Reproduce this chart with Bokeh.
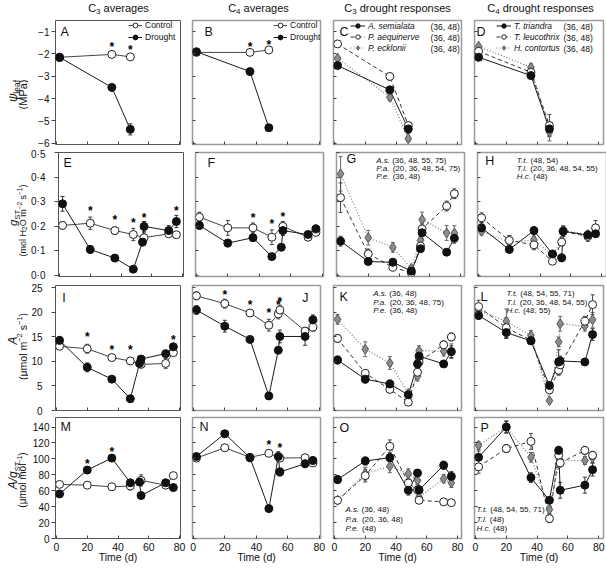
import math
from bokeh.plotting import figure
from bokeh.models import (Range1d, FixedTicker, CustomJSTickFormatter, Label, Legend,
                          LegendItem, Whisker, TeeHead, ColumnDataSource, CustomLabelingPolicy)
from bokeh.layouts import row, column
from bokeh.embed import file_html
from bokeh.resources import INLINE
from bokeh.core.properties import value

FONT = "Liberation Sans"

# ------------------------------------------------------------------ data
DAYS_PSI = [2, 36, 48]
DAYS = [2, 20, 36, 48, 54, 55, 71, 76]
DAYS_CTRL = [2, 20, 36, 48, 55, 71, 76]
X_TICKS = [0, 20, 40, 60, 80]
Y_TICKS = [[-6, -5, -4, -3, -2, -1],
           [0.0, 0.1, 0.2, 0.3, 0.4, 0.5],
           [0, 5, 10, 15, 20, 25],
           [0, 20, 40, 60, 80, 100, 120, 140]]

COL_TITLES = [("C", "3", " averages"), ("C", "4", " averages"),
              ("C", "3", " drought responses"), ("C", "4", " drought responses")]
PANEL_LETTERS = [["A", "B", "C", "D"], ["E", "F", "G", "H"],
                 ["I", "J", "K", "L"], ["M", "N", "O", "P"]]
AVG_LABELS = ["Control", "Drought"]
C3_SPECIES = ["A. semialata", "P. aequinerve", "P. ecklonii"]
C4_SPECIES = ["T. triandra", "T. leucothrix", "H. contortus"]
C3_ABBR = ["A.s.", "P.a.", "P.e."]
C4_ABBR = ["T.t.", "T.l.", "H.c."]
SIG_C = ["(36, 48)", "(36, 48)", "(36, 48)"]
SIG_D = ["(36, 48)", "(36, 48)", "(36, 48)"]
SIG_G = [" (36, 48, 55, 75)", " (20, 36, 48, 54, 75)", " (36, 48)"]
SIG_H = [" (48, 54)", " (20, 36, 48, 54, 55)", " (48)"]
SIG_K = [" (36, 48)", " (20, 36, 48, 75)", " (36, 48)"]
SIG_L = [" (48, 54, 55, 71)", " (20, 36, 48, 54, 55)", " (48, 55)"]
SIG_O = [" (36, 48)", " (20, 36, 48)", " (48)"]
SIG_P = [" (48, 54, 55, 71)", " (48)", " (48)"]

# A: C3 averages, leaf water potential (MPa)
A_ctrl = [-2.15, -2.02, -2.13]
A_ctrl_err = [0.05, 0.05, 0.05]
A_drt = [-2.15, -3.50, -5.38]
A_drt_err = [0.06, 0.08, 0.25]
A_star_day = [36, 48]
A_star_y = [-1.67, -1.82]
# B: C4 averages
B_ctrl = [-1.93, -1.93, -1.82]
B_ctrl_err = [0.05, 0.06, 0.05]
B_drt = [-1.90, -2.79, -5.31]
B_drt_err = [0.05, 0.06, 0.05]
B_star_day = [36, 48]
B_star_y = [-1.68, -1.58]
# C: C3 species (drought)
C_as = [-2.52, -3.61, -5.36]
C_as_err = [0.05, 0.10, 0.20]
C_pa = [-1.55, -3.01, -5.21]
C_pa_err = [0.05, 0.15, 0.15]
C_pe = [-2.19, -3.94, -5.80]
C_pe_err = [0.05, 0.15, 0.12]
# D: C4 species (drought)
D_tt = [-2.15, -2.97, -5.36]
D_tt_err = [0.05, 0.10, 0.30]
D_tl = [-1.88, -2.82, -5.21]
D_tl_err = [0.05, 0.10, 0.50]
D_hc = [-1.66, -2.60, -5.50]
D_hc_err = [0.05, 0.15, 0.40]

# E: C3 averages, g_ST
E_ctrl = [0.204, 0.213, 0.183, 0.167, 0.154, 0.170, 0.166]
E_ctrl_err = [0.015, 0.025, 0.015, 0.025, 0.020, 0.010, 0.005]
E_drt = [0.292, 0.106, 0.071, 0.026, 0.136, 0.200, 0.183, 0.220]
E_drt_err = [0.030, 0.015, 0.010, 0.005, 0.015, 0.020, 0.020, 0.025]
E_star_day = [20, 36, 48, 55, 76]
E_star_y = [0.262, 0.228, 0.215, 0.235, 0.262]
# F: C4 averages
F_ctrl = [0.238, 0.194, 0.194, 0.156, 0.200, 0.156, 0.176]
F_ctrl_err = [0.020, 0.030, 0.020, 0.030, 0.020, 0.010, 0.010]
F_drt = [0.204, 0.132, 0.154, 0.077, 0.115, 0.183, 0.167, 0.190]
F_drt_err = [0.015, 0.015, 0.015, 0.008, 0.010, 0.020, 0.010, 0.015]
F_star_day = [36, 48, 55]
F_star_y = [0.235, 0.208, 0.240]
# G: C3 species
G_as = [0.140, 0.057, 0.054, 0.018, 0.109, 0.174, 0.095, 0.152]
G_as_err = [0.020, 0.010, 0.015, 0.005, 0.010, 0.025, 0.010, 0.020]
G_pa = [0.317, 0.088, 0.034, 0.011, 0.120, 0.190, 0.283, 0.333]
G_pa_err = [0.060, 0.020, 0.010, 0.005, 0.015, 0.020, 0.020, 0.020]
G_pe = [0.414, 0.154, 0.115, 0.030, 0.143, 0.228, 0.173, 0.173]
G_pe_err = [0.070, 0.030, 0.020, 0.005, 0.015, 0.030, 0.030, 0.030]
# H: C4 species
H_tt = [0.194, 0.106, 0.183, 0.088, 0.072, 0.180, 0.165, 0.170]
H_tt_err = [0.020, 0.010, 0.015, 0.010, 0.015, 0.020, 0.010, 0.010]
H_tl = [0.235, 0.143, 0.125, 0.058, 0.136, 0.180, 0.159, 0.194]
H_tl_err = [0.020, 0.020, 0.020, 0.010, 0.015, 0.020, 0.020, 0.030]
H_hc = [0.180, 0.136, 0.145, 0.082, 0.143, 0.183, 0.167, 0.180]
H_hc_err = [0.015, 0.020, 0.015, 0.010, 0.015, 0.020, 0.015, 0.020]

# I: C3 averages, A
I_ctrl = [13.1, 12.6, 10.8, 10.1, 9.4, 9.6, 11.8]
I_ctrl_err = [0.6, 0.9, 0.6, 0.7, 0.5, 1.0, 0.6]
I_drt = [14.3, 8.8, 6.4, 2.4, 9.6, 10.5, 11.6, 13.0]
I_drt_err = [0.8, 0.9, 0.6, 0.2, 0.5, 0.6, 0.6, 0.5]
I_star_day = [20, 36, 48, 76]
I_star_y = [15.0, 12.3, 12.3, 14.3]
# J: C4 averages
J_ctrl = [23.4, 21.8, 19.9, 17.4, 19.7, 20.5, 16.2, 17.0]
J_ctrl_err = [0.8, 0.9, 0.7, 1.2, 1.0, 1.0, 0.6, 0.8]
J_drt = [20.5, 17.2, 14.5, 2.97, 12.3, 15.1, 15.1, 18.5]
J_drt_err = [0.9, 1.2, 0.5, 0.3, 0.7, 1.3, 1.8, 1.0]
J_star_day = [20, 36, 48, 54, 55]
J_star_y = [23.6, 21.6, 19.9, 21.6, 22.2]
# K: C3 species
K_as = [10.3, 6.4, 5.4, 3.2, 9.5, 11.1, 9.5, 12.0]
K_as_err = [0.8, 0.8, 0.8, 0.3, 1.0, 1.0, 0.6, 1.2]
K_pa = [14.7, 7.6, 4.3, 1.7, 7.8, 9.9, 13.4, 15.0]
K_pa_err = [0.8, 0.6, 0.5, 0.2, 0.8, 1.0, 0.8, 0.8]
K_pe = [18.6, 12.5, 9.7, 3.5, 7.0, 12.2, 12.1, 12.1]
K_pe_err = [1.0, 1.5, 1.3, 0.4, 1.0, 1.0, 1.0, 1.5]
# L: C4 species
L_tt = [19.4, 15.9, 14.2, 5.1, 9.9, 10.1, 9.9, 15.5]
L_tt_err = [0.8, 1.2, 0.5, 0.7, 2.5, 1.0, 0.7, 1.2]
L_tl = [21.2, 16.9, 14.3, 4.2, 8.2, 9.3, 18.2, 21.6]
L_tl_err = [1.3, 2.0, 0.5, 0.5, 1.0, 1.0, 1.0, 2.0]
L_hc = [20.4, 18.2, 15.3, 2.0, 14.0, 17.7, 17.2, 18.5]
L_hc_err = [1.0, 2.5, 1.0, 0.3, 1.0, 1.5, 1.0, 1.5]

# M: C3 averages, A/g_ST
M_ctrl = [68, 67, 65, 66, 73, 67, 79]
M_ctrl_err = [3, 4, 4, 5, 7, 3, 2]
M_drt = [56, 86, 101, 70, 71, 54, 70, 64]
M_drt_err = [3, 4, 4, 4, 4, 3, 4, 4]
M_star_day = [20, 36]
M_star_y = [93, 109]
# N: C4 averages
N_ctrl = [101, 114, 102, 107, 101, 101.5, 95]
N_ctrl_err = [3, 4, 4, 4, 4, 3, 3]
N_drt = [103, 131.6, 101.5, 37.6, 103, 83.6, 94, 98]
N_drt_err = [3, 4, 5, 4, 6, 5, 5, 4]
N_star_day = [48, 55]
N_star_y = [117, 114]
# O: C3 species
O_as = [74, 97.4, 101.5, 60.6, 82.3, 61, 92, 78]
O_as_err = [5, 5, 5, 6, 4, 5, 5, 6]
O_pa = [48, 79, 115.8, 69.8, 61, 48, 46, 45]
O_pa_err = [4, 8, 8, 8, 5, 4, 1, 1]
O_pe = [48, 81.5, 90.7, 81.5, 73, 52, 75, 70]
O_pe_err = [4, 8, 8, 6, 5, 4, 5, 6]
# P: C4 species
P_tt = [102, 140, 76.5, 48, 110.7, 60.6, 67, 86.5]
P_tt_err = [8, 7, 6, 4, 5, 10, 10, 8]
P_tl = [90, 113, 122, 25, 104.5, 95, 110.7, 104.5]
P_tl_err = [8, 5, 10, 5, 5, 5, 5, 5]
P_hc = [117, 140, 102, 36.4, 94, 98, 98, 101.5]
P_hc_err = [5, 8, 6, 5, 5, 5, 5, 6]

# ------------------------------------------------------------------ layout (page px)
STRIP_W = 28          # left strip holding the rotated y titles
TITLE_H = 18          # top strip holding the column titles
TOTAL_W = 605
COL_L = [55, 192, 333, 474]
COL_W = [125, 128, 128, 129]
ROW_T = [20, 152, 285, 417]
ROW_H = [124, 124, 125, 121]
FIG_RIGHT = [186, 326, 467, 605]
FIG_TOP = [TITLE_H, 148, 280, 416]
FIG_BOTTOM = [148, 280, 416, 566]
XR = [(-0.65, 80.65), (-0.5, 80.8), (-0.65, 82.6), (-0.65, 83.1)]
YR = [(-6.06, -0.5), (-0.004, 0.501), (0.0, 25.5), (0.0, 152.0)]
YLAB_STANDOFF = [2, 9, 9, 2]
BASE = 0.35           # baseline offset from text middle, in em

FMT = [
    "return tick < 0 ? '\\u2212' + Math.abs(tick).toFixed(0) : tick.toFixed(0);",
    "return tick.toFixed(1).replace('.', '\\u00b7');",
    "return tick.toFixed(0);",
    "return tick.toFixed(0);",
]
HIDE_LABELS = "const all = [...indices]; for (const i of all) { indices.unset(i) } return indices"

STYLE = {
    "drt": dict(lc="#1a1a1a", dash="solid", lw=1.0, marker="circle", size=8, fill="#111111", ml="#111111", err="#333333"),
    "ctrl": dict(lc="#444444", dash="solid", lw=1.0, marker="circle", size=8, fill="white", ml="#222222", err="#444444"),
    "s1": dict(lc="#1a1a1a", dash="solid", lw=1.0, marker="circle", size=8, fill="#111111", ml="#111111", err="#333333"),
    "s2": dict(lc="#333333", dash="4 3", lw=1.0, marker="circle", size=8, fill="white", ml="#222222", err="#444444"),
    "s3": dict(lc="#777777", dash="1 2", lw=1.2, marker="diamond", size=10, fill="#8c8c8c", ml="#555555", err="#666666"),
}

W = {' ': 278, '(': 333, ')': 333, ',': 278, '.': 278, '/': 278, '\u00b7': 278, '\u2212': 584,
     'A': 667, 'C': 722, 'D': 722, 'H': 722, 'M': 833, 'O': 778, 'P': 667, 'S': 667, 'T': 611,
     'a': 556, 'c': 500, 'd': 556, 'e': 556, 'f': 278, 'g': 556, 'h': 556, 'i': 222, 'l': 222,
     'm': 833, 'n': 556, 'o': 556, 'r': 333, 's': 500, 't': 278, 'u': 556, 'v': 500, 'x': 500,
     '\u03c8': 700, '\u03bc': 577}


def tw(s, size):
    return sum(W.get(ch, 556) for ch in s) / 1000.0 * size


def panel_xy(r, c):
    x0, x1 = XR[c]
    y0, y1 = YR[r]

    def f(px, py):
        return (x0 + (px - COL_L[c]) * (x1 - x0) / COL_W[c],
                y1 - (py - ROW_T[r]) * (y1 - y0) / ROW_H[r])
    return f


def page_xy(px, py):
    return px, py


def lab(p, conv, px, py, text, size, italic=False, align="left", baseline="middle",
        angle=0.0, color="#111111"):
    x, y = conv(px, py)
    p.add_layout(Label(x=x, y=y, x_units="data", y_units="data",
                       text=text, text_font=FONT, text_font_size="%.1fpx" % size,
                       text_font_style="italic" if italic else "normal",
                       text_align=align, text_baseline=baseline, angle=angle,
                       text_color=color))


def rich_h(p, conv, pieces, x, center_y, center=False):
    """pieces: (text, size, italic, baseline shift px, +down). center_y = middle of main text."""
    total = sum(tw(t, s) for t, s, it, sh in pieces)
    if center:
        x -= total / 2.0
    base = center_y + BASE * pieces[0][1]
    for t, s, it, sh in pieces:
        stripped = t.lstrip(" ")
        x += tw(t[:len(t) - len(stripped)], s)
        lab(p, conv, x, base + sh - BASE * s, stripped, s, italic=it)
        x += tw(stripped, s)


def rich_v(p, conv, pieces, center_x, center_y):
    """text reading bottom-to-top; shift px, + = towards text bottom (screen right)."""
    total = sum(tw(t, s) for t, s, it, sh in pieces)
    y = center_y + total / 2.0
    base = center_x + BASE * pieces[0][1]
    for t, s, it, sh in pieces:
        stripped = t.lstrip(" ")
        y -= tw(t[:len(t) - len(stripped)], s)
        lab(p, conv, base + sh - BASE * s, y, stripped, s, italic=it, angle=math.pi / 2)
        y -= tw(stripped, s)


def strip(x0, x1, y0, y1):
    # blank figure whose data coordinates are page pixels (used only for text)
    p = figure(frame_width=x1 - x0, frame_height=y1 - y0,
               x_range=Range1d(x0, x1), y_range=Range1d(y1, y0),
               x_axis_location=None, y_axis_location=None,
               output_backend="svg", toolbar_location=None,
               min_border_left=0, min_border_right=0, min_border_top=0, min_border_bottom=0,
               background_fill_color="white", border_fill_color="white")
    p.grid.visible = False
    p.outline_line_color = None
    return p


def make_fig(r, c):
    bl = COL_L[c] - (FIG_RIGHT[c - 1] if c > 0 else STRIP_W)
    br = FIG_RIGHT[c] - (COL_L[c] + COL_W[c])
    bt = ROW_T[r] - FIG_TOP[r]
    bb = FIG_BOTTOM[r] - (ROW_T[r] + ROW_H[r])
    p = figure(frame_width=COL_W[c], frame_height=ROW_H[r],
               x_range=Range1d(*XR[c]), y_range=Range1d(*YR[r]),
               output_backend="svg", toolbar_location=None,
               min_border_left=bl, min_border_right=br, min_border_top=bt, min_border_bottom=bb,
               background_fill_color="white", border_fill_color="white")
    p.grid.visible = False
    p.outline_line_color = "#555555" if c == 0 else "#9a9a9a"
    p.outline_line_width = 1.0 if c == 0 else 1.5
    xa = p.xaxis[0]
    xa.ticker = FixedTicker(ticks=X_TICKS)
    xa.axis_line_color = None
    xa.minor_tick_line_color = None
    xa.major_tick_in = 3
    xa.major_tick_out = 0
    xa.major_tick_line_color = "#444444"
    if r == 3:
        xa.major_label_text_font = FONT
        xa.major_label_text_font_size = "10.5px"
        xa.major_label_text_color = "#111111"
        xa.major_label_standoff = 4
        xa.axis_label = "Time (d)"
        xa.axis_label_text_font = FONT
        xa.axis_label_text_font_size = "10.5px"
        xa.axis_label_text_font_style = "normal"
        xa.axis_label_text_color = "#111111"
        xa.axis_label_standoff = -3
    else:
        xa.major_label_text_font_size = "1px"
        xa.major_label_standoff = 0
        xa.major_label_policy = CustomLabelingPolicy(code=HIDE_LABELS)
    ya = p.yaxis[0]
    ya.ticker = FixedTicker(ticks=Y_TICKS[r])
    ya.axis_line_color = None
    ya.minor_tick_line_color = None
    ya.major_tick_line_color = "#444444"
    if c == 0:
        ya.major_tick_in = 0
        ya.major_tick_out = 4
        ya.major_label_text_font = FONT
        ya.major_label_text_font_size = "10px"
        ya.major_label_text_color = "#111111"
        ya.major_label_standoff = YLAB_STANDOFF[r]
        ya.formatter = CustomJSTickFormatter(code=FMT[r])
    else:
        ya.major_tick_in = 3
        ya.major_tick_out = 0
        ya.major_label_text_font_size = "1px"
        ya.major_label_standoff = 0
        ya.major_label_policy = CustomLabelingPolicy(code=HIDE_LABELS)
    return p


def draw(p, series, stars=None):
    out = {}
    for key, days, vals, errs in series:
        st = STYLE[key]
        out[key] = [p.line(days, vals, line_color=st["lc"], line_dash=st["dash"], line_width=st["lw"])]
    for key, days, vals, errs in series:
        st = STYLE[key]
        src = ColumnDataSource(dict(x=days, lo=[v - e for v, e in zip(vals, errs)],
                                    hi=[v + e for v, e in zip(vals, errs)]))
        p.add_layout(Whisker(source=src, base="x", lower="lo", upper="hi", level="underlay",
                             line_color=st["err"], line_width=1,
                             lower_head=TeeHead(size=4, line_color=st["err"], line_width=1),
                             upper_head=TeeHead(size=4, line_color=st["err"], line_width=1)))
    for key, days, vals, errs in series:
        st = STYLE[key]
        out[key].append(p.scatter(days, vals, marker=st["marker"], size=st["size"],
                                  fill_color=st["fill"], line_color=st["ml"], line_width=1))
    if stars is not None:
        p.text(x=stars[0], y=stars[1], text=["*"] * len(stars[0]), text_font=value(FONT),
               text_font_size="12px", text_font_style="bold", text_align="center",
               text_baseline="middle", text_color="#000000")
    return out


def legend(p, r, rends, labels, dx, top_dy, item_h, gw, italic):
    n = len(labels)
    h = n * item_h
    leg = Legend(items=[LegendItem(label=l, renderers=rr) for l, rr in zip(labels, rends)],
                 location=(dx, ROW_H[r] - top_dy - h), orientation="vertical",
                 label_text_font=FONT, label_text_font_size="8.5px",
                 label_text_font_style="italic" if italic else "normal",
                 label_text_color="#111111",
                 glyph_width=gw, glyph_height=item_h, label_height=item_h, label_standoff=3,
                 spacing=0, padding=0, margin=0, border_line_color=None,
                 background_fill_alpha=0.0)
    p.add_layout(leg)


figs = [[make_fig(r, c) for c in range(4)] for r in range(4)]
conv = [[panel_xy(r, c) for c in range(4)] for r in range(4)]

# row 1
o = draw(figs[0][0], [("ctrl", DAYS_PSI, A_ctrl, A_ctrl_err), ("drt", DAYS_PSI, A_drt, A_drt_err)],
         (A_star_day, A_star_y))
legend(figs[0][0], 0, [o["ctrl"], o["drt"]], AVG_LABELS, 73, -1, 12, 14, False)
o = draw(figs[0][1], [("ctrl", DAYS_PSI, B_ctrl, B_ctrl_err), ("drt", DAYS_PSI, B_drt, B_drt_err)],
         (B_star_day, B_star_y))
legend(figs[0][1], 0, [o["ctrl"], o["drt"]], AVG_LABELS, 81, -1, 12, 14, False)
o = draw(figs[0][2], [("s3", DAYS_PSI, C_pe, C_pe_err), ("s2", DAYS_PSI, C_pa, C_pa_err),
                      ("s1", DAYS_PSI, C_as, C_as_err)])
legend(figs[0][2], 0, [o["s1"], o["s2"], o["s3"]], C3_SPECIES, 17, 0, 11, 15, True)
o = draw(figs[0][3], [("s3", DAYS_PSI, D_hc, D_hc_err), ("s2", DAYS_PSI, D_tl, D_tl_err),
                      ("s1", DAYS_PSI, D_tt, D_tt_err)])
legend(figs[0][3], 0, [o["s1"], o["s2"], o["s3"]], C4_SPECIES, 22, 0, 11, 15, True)
for i, t in enumerate(SIG_C):
    lab(figs[0][2], conv[0][2], 430, 26 + 11.3 * i, t, 8.5)
for i, t in enumerate(SIG_D):
    lab(figs[0][3], conv[0][3], 563, 26 + 11.3 * i, t, 8.5)

# row 2
draw(figs[1][0], [("ctrl", DAYS_CTRL, E_ctrl, E_ctrl_err), ("drt", DAYS, E_drt, E_drt_err)],
     (E_star_day, E_star_y))
draw(figs[1][1], [("ctrl", DAYS_CTRL, F_ctrl, F_ctrl_err), ("drt", DAYS, F_drt, F_drt_err)],
     (F_star_day, F_star_y))
draw(figs[1][2], [("s3", DAYS, G_pe, G_pe_err), ("s2", DAYS, G_pa, G_pa_err), ("s1", DAYS, G_as, G_as_err)])
draw(figs[1][3], [("s3", DAYS, H_hc, H_hc_err), ("s2", DAYS, H_tl, H_tl_err), ("s1", DAYS, H_tt, H_tt_err)])
# row 3
draw(figs[2][0], [("ctrl", DAYS_CTRL, I_ctrl, I_ctrl_err), ("drt", DAYS, I_drt, I_drt_err)],
     (I_star_day, I_star_y))
draw(figs[2][1], [("ctrl", DAYS, J_ctrl, J_ctrl_err), ("drt", DAYS, J_drt, J_drt_err)],
     (J_star_day, J_star_y))
draw(figs[2][2], [("s3", DAYS, K_pe, K_pe_err), ("s2", DAYS, K_pa, K_pa_err), ("s1", DAYS, K_as, K_as_err)])
draw(figs[2][3], [("s3", DAYS, L_hc, L_hc_err), ("s2", DAYS, L_tl, L_tl_err), ("s1", DAYS, L_tt, L_tt_err)])
# row 4
draw(figs[3][0], [("ctrl", DAYS_CTRL, M_ctrl, M_ctrl_err), ("drt", DAYS, M_drt, M_drt_err)],
     (M_star_day, M_star_y))
draw(figs[3][1], [("ctrl", DAYS_CTRL, N_ctrl, N_ctrl_err), ("drt", DAYS, N_drt, N_drt_err)],
     (N_star_day, N_star_y))
draw(figs[3][2], [("s3", DAYS, O_pe, O_pe_err), ("s2", DAYS, O_pa, O_pa_err), ("s1", DAYS, O_as, O_as_err)])
draw(figs[3][3], [("s3", DAYS, P_hc, P_hc_err), ("s2", DAYS, P_tl, P_tl_err), ("s1", DAYS, P_tt, P_tt_err)])

# species significance annotations (italic abbreviation + plain days)
ANNOT = [(1, 2, C3_ABBR, SIG_G, 372.7, 160.0, 7.9), (1, 3, C4_ABBR, SIG_H, 513.3, 160.0, 7.9),
         (2, 2, C3_ABBR, SIG_K, 372.7, 293.3, 8.3), (2, 3, C4_ABBR, SIG_L, 506.0, 293.3, 8.3),
         (3, 2, C3_ABBR, SIG_O, 345.0, 509.3, 9.2), (3, 3, C4_ABBR, SIG_P, 476.0, 509.3, 9.2)]
for r, c, abbr, sig, x0, y0, dy in ANNOT:
    for i in range(3):
        rich_h(figs[r][c], conv[r][c], [(abbr[i], 8.0, True, 0), (sig[i], 8.0, False, 0)],
               x0, y0 + dy * i)

# panel letters
LETTER_POS = [[(60, 31.7), (204, 31.7), (339, 31.7), (476, 31.7)],
              [(60, 162.7), (204, 162.7), (343, 158.0), (481.7, 160.8)],
              [(61.7, 297), (301.7, 297), (339, 296), (480, 296)],
              [(60, 426.7), (199, 426.7), (339, 427.5), (480, 427.5)]]
for r in range(4):
    for c in range(4):
        x, y = LETTER_POS[r][c]
        lab(figs[r][c], conv[r][c], x, y, PANEL_LETTERS[r][c], 12.5)

# column titles (top strip)
top = strip(0, TOTAL_W, 0, TITLE_H)
TITLE_CX = [118, 258, 397, 540]
for c in range(4):
    a, b, t = COL_TITLES[c]
    rich_h(top, page_xy, [(a, 11, False, 0), (b, 8, False, 2.5), (t, 11, False, 0)],
           TITLE_CX[c], 7.5, center=True)

# y-axis titles (left strips, rotated, built from pieces so sub/superscripts work)
YT = [
    ([("\u03c8", 12, True, 0), ("leaf", 8.5, False, 2.5)], [("(MPa)", 11, False, 0)], 88.5, 92),
    ([("g", 11.5, True, 0), ("ST", 7.5, False, 2.5)],
     [("(mol H", 9, False, 0), ("2", 6.5, False, 1.5), ("O m", 9, False, 0), ("\u22122", 6.5, False, -3.5),
      (" s", 9, False, 0), ("\u22121", 6.5, False, -3.5), (")", 9, False, 0)], 213.5, 216),
    ([("A", 12, True, 0)],
     [("(\u03bcmol m", 10.5, False, 0), ("\u22122", 7.5, False, -4), (" s", 10.5, False, 0),
      ("\u22121", 7.5, False, -4), (")", 10.5, False, 0)], 335, 341),
    ([("A/g", 12, True, 0), ("ST", 7.5, False, 2.5)],
     [("(\u03bcmol mol", 10, False, 0), ("\u22121", 7, False, -4), (")", 10, False, 0)], 474, 478.5),
]
YT_X = [(12.3, 22.3), (12.8, 22.0), (12.5, 22.4), (12.8, 22.4)]
strips = []
for r in range(4):
    s = strip(0, STRIP_W, FIG_TOP[r], FIG_BOTTOM[r])
    l1, l2, cy1, cy2 = YT[r]
    rich_v(s, page_xy, l1, YT_X[r][0], cy1)
    rich_v(s, page_xy, l2, YT_X[r][1], cy2)
    strips.append(s)

root = column(top, *[row(strips[r], *figs[r], spacing=0) for r in range(4)], spacing=0)

with open("out.html", "w", encoding="utf-8") as f:
    f.write(file_html(root, INLINE))
